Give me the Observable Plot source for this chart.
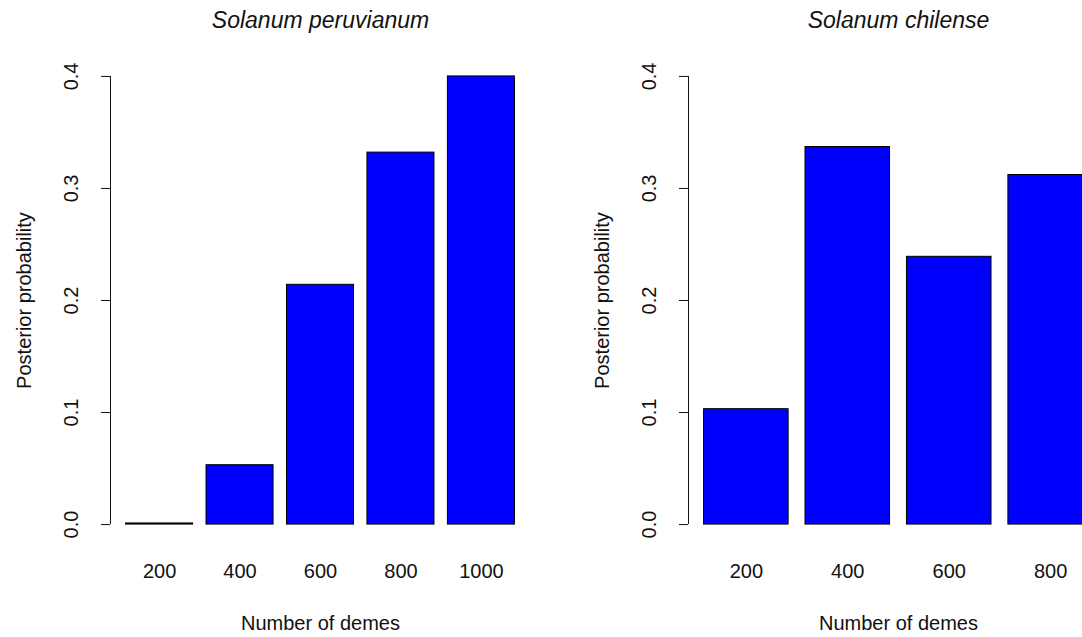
<!DOCTYPE html>
<html>
<head>
<meta charset="utf-8">
<script src="https://cdn.jsdelivr.net/npm/d3@7"></script>
<script src="https://cdn.jsdelivr.net/npm/@observablehq/plot@0.6"></script>
<style>
  html, body { margin: 0; padding: 0; background: #fff; }
  #wrap { width: 1082px; height: 637px; overflow: hidden; display: flex; flex-wrap: nowrap; }
  #wrap > * { flex: 0 0 auto; }
</style>
</head>
<body>
<div id="wrap"></div>
<script>
// ---- data ----
const titles = ["Solanum peruvianum", "Solanum chilense"];
const demesPeruvianum = ["200", "400", "600", "800", "1000"];
const probPeruvianum = [0.001, 0.053, 0.214, 0.332, 0.400];
const demesChilense = ["200", "400", "600", "800"];
const probChilense = [0.103, 0.337, 0.239, 0.312];
const yTicks = [0, 0.1, 0.2, 0.3, 0.4];
const xLabel = "Number of demes";
const yLabel = "Posterior probability";

// ---- layout / style ----
const W = 578, H = 637;
const mL = 110, mR = 48, mT = 58, mB = 95;
const font = "'Liberation Sans', Arial, Helvetica, sans-serif";
const ink = "#111";

function panel(title, demes, probs) {
  const n = demes.length;
  // R barplot geometry: width 1, space 0.2, axis range extended by 4%
  const ext = 0.04 * (1.2 * n - 0.2);
  const data = demes.map((d, i) => ({demes: d, p: probs[i]}));
  const innerW = W - mL - mR;
  return Plot.plot({
    width: W,
    height: H,
    marginLeft: mL,
    marginRight: mR,
    marginTop: mT,
    marginBottom: mB,
    style: {fontFamily: font, fontSize: "20px", color: ink, background: "#fff", overflow: "visible"},
    x: {type: "band", domain: demes, paddingInner: 0.2 / 1.2, paddingOuter: ext / 1.2, align: 0.5, round: false},
    y: {domain: [-0.016, 0.416]},
    marks: [
      Plot.barY(data, {x: "demes", y: "p", fill: "#0000ff", stroke: "black", strokeWidth: 1}),
      // y axis line from 0 to 0.4 at the left frame edge
      Plot.ruleX([yTicks], {x: null, y1: d => d[0], y2: d => d[d.length - 1], dx: -innerW / 2, stroke: ink}),
      Plot.axisY(yTicks, {tickSize: 9, tickFormat: () => "", label: null, stroke: ink}),
      Plot.text(yTicks, {y: d => d, text: d => d.toFixed(1), frameAnchor: "left", rotate: -90, dx: -38.5,
        textAnchor: "middle", lineAnchor: "middle", fontSize: 20, fill: ink}),
      Plot.axisX({tickSize: 0, tickPadding: 21, label: null, fontSize: 20, fill: ink}),
      Plot.text([yLabel], {frameAnchor: "left", rotate: -90, dx: -86, textAnchor: "middle", lineAnchor: "middle",
        fontSize: 20, fill: ink}),
      Plot.text([xLabel], {frameAnchor: "bottom", dy: 81, textAnchor: "middle", lineAnchor: "middle",
        fontSize: 20, fill: ink}),
      Plot.text([title], {frameAnchor: "top", dy: -38, textAnchor: "middle", lineAnchor: "middle",
        fontSize: 23, fontStyle: "italic", fill: ink})
    ]
  });
}

const wrap = document.getElementById("wrap");
wrap.appendChild(panel(titles[0], demesPeruvianum, probPeruvianum));
wrap.appendChild(panel(titles[1], demesChilense, probChilense));
</script>
</body>
</html>
